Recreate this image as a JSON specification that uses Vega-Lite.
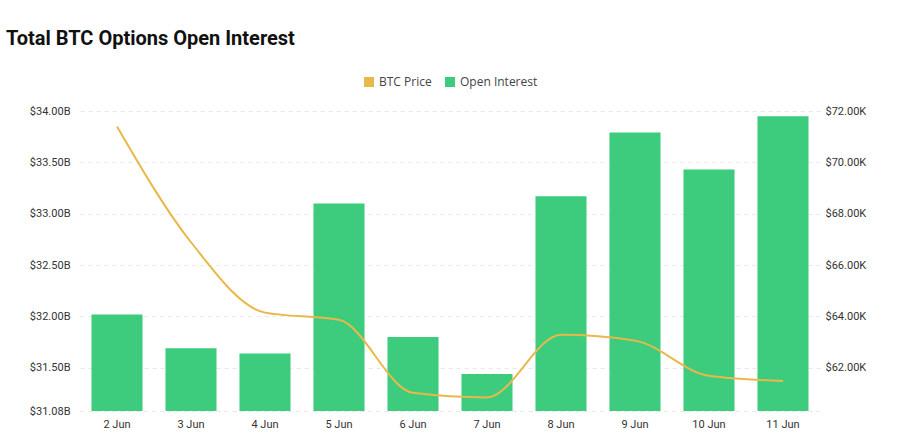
{
  "$schema": "https://vega.github.io/schema/vega-lite/v6.json",
  "width": 740,
  "height": 300,
  "autosize": {"type": "none"},
  "padding": {"left": 80, "top": 111, "right": 78, "bottom": 23},
  "background": "white",
  "config": {"view": {"stroke": null}},
  "title": {
    "text": "Total BTC Options Open Interest",
    "anchor": "start",
    "frame": "group",
    "dx": -74,
    "offset": 11,
    "baseline": "alphabetic",
    "font": "Roboto",
    "fontSize": 20,
    "fontWeight": "bold",
    "color": "#111111"
  },
  "data": {
    "values": [
      {"date": "2 Jun", "oi": 32.02, "price": 71400},
      {"date": "3 Jun", "oi": 31.69, "price": 66890},
      {"date": "4 Jun", "oi": 31.64, "price": 64150},
      {"date": "5 Jun", "oi": 33.10, "price": 63870},
      {"date": "6 Jun", "oi": 31.80, "price": 61030},
      {"date": "7 Jun", "oi": 31.44, "price": 60850},
      {"date": "8 Jun", "oi": 33.17, "price": 63290},
      {"date": "9 Jun", "oi": 33.79, "price": 63060},
      {"date": "10 Jun", "oi": 33.43, "price": 61690},
      {"date": "11 Jun", "oi": 33.95, "price": 61490}
    ]
  },
  "encoding": {
    "x": {
      "field": "date",
      "type": "ordinal",
      "sort": null,
      "scale": {"paddingInner": 0.31, "paddingOuter": 0.155},
      "axis": {
        "title": null,
        "labelAngle": 0,
        "domain": false,
        "ticks": false,
        "labelPadding": 7,
        "labelFont": "Roboto",
        "labelFontSize": 11,
        "labelColor": "#333333"
      }
    }
  },
  "layer": [
    {
      "mark": {"type": "bar"},
      "encoding": {
        "y": {
          "field": "oi",
          "type": "quantitative",
          "scale": {"domain": [31.08, 34], "zero": false, "nice": false},
          "axis": {
            "title": null,
            "orient": "left",
            "values": [31.08, 31.5, 32, 32.5, 33, 33.5, 34],
            "labelExpr": "'$' + format(datum.value, '.2f') + 'B'",
            "domain": false,
            "ticks": false,
            "grid": true,
            "gridDash": [4, 4],
            "gridColor": "#e8e8e8",
            "labelPadding": 10,
            "labelFont": "Roboto",
            "labelFontSize": 11,
            "labelColor": "#333333"
          }
        },
        "y2": {"datum": 31.08},
        "color": {
          "datum": "Open Interest",
          "type": "nominal",
          "scale": {"domain": ["BTC Price", "Open Interest"], "range": ["#eab84a", "#3dcc7d"]},
          "legend": {
            "title": null,
            "orient": "none",
            "direction": "horizontal",
            "legendX": 283,
            "legendY": -35,
            "symbolType": "square",
            "symbolSize": 100,
            "symbolStrokeWidth": 0,
            "labelFont": "Open Sans",
            "labelFontSize": 12,
            "labelColor": "#444444",
            "columnPadding": 12
          }
        }
      }
    },
    {
      "mark": {"type": "line", "interpolate": "monotone", "strokeWidth": 2},
      "encoding": {
        "y": {
          "field": "price",
          "type": "quantitative",
          "scale": {"domain": [60320, 72000], "zero": false, "nice": false},
          "axis": {
            "title": null,
            "orient": "right",
            "values": [62000, 64000, 66000, 68000, 70000, 72000],
            "labelExpr": "'$' + format(datum.value / 1000, '.2f') + 'K'",
            "domain": false,
            "ticks": false,
            "grid": false,
            "labelPadding": 5,
            "labelFont": "Roboto",
            "labelFontSize": 11,
            "labelColor": "#333333"
          }
        },
        "color": {"datum": "BTC Price", "type": "nominal"}
      }
    }
  ],
  "resolve": {"scale": {"y": "independent"}}
}
